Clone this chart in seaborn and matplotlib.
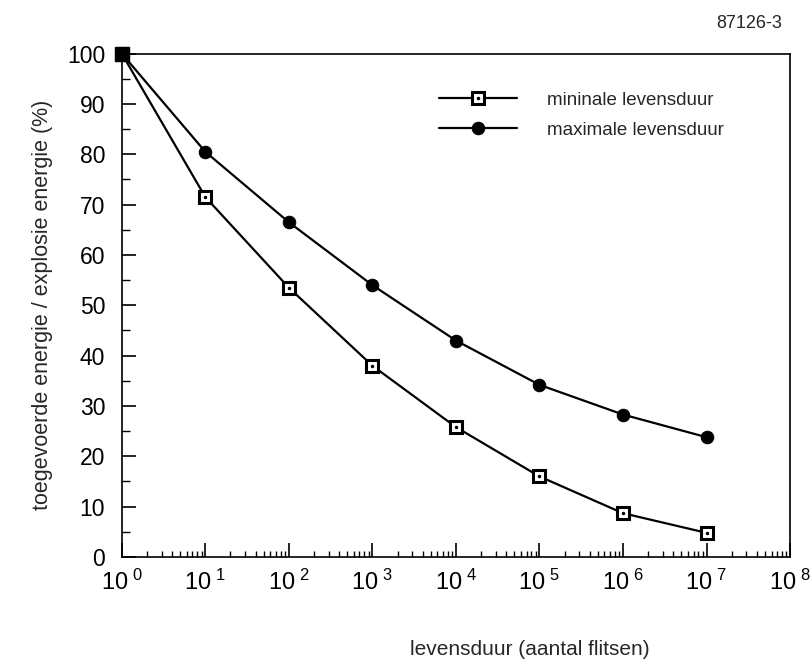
import matplotlib
matplotlib.use("Agg")
import matplotlib.pyplot as plt
import matplotlib.ticker as mticker
import seaborn as sns
import numpy as np

# values
flitsen = [1e0, 1e1, 1e2, 1e3, 1e4, 1e5, 1e6, 1e7]
min_levensduur = [100, 71.5, 53.5, 38.0, 25.8, 16.0, 8.7, 4.8]
max_levensduur = [100, 80.5, 66.5, 54.0, 43.0, 34.2, 28.3, 23.8]
decades = [0, 1, 2, 3, 4, 5, 6, 7, 8]

sns.set_style("ticks")
plt.rcParams['font.family'] = ['Liberation Sans', 'DejaVu Sans']
plt.rcParams['mathtext.default'] = 'regular'

fig = plt.figure(figsize=(8.12, 6.62), dpi=100)
ax = fig.add_axes([0.150, 0.1586, 0.823, 0.7604])

sns.lineplot(x=flitsen, y=min_levensduur, ax=ax, color="black", lw=1.6,
             marker="s", markersize=9, markerfacecolor="white",
             markeredgecolor="black", markeredgewidth=2.2, zorder=3, clip_on=False)
sq = ax.lines[-1]
dots = ax.plot(flitsen, min_levensduur, ls="none", marker=".", ms=3,
               color="black", zorder=4, clip_on=False)[0]
sns.lineplot(x=flitsen, y=max_levensduur, ax=ax, color="black", lw=1.6,
             marker="o", markersize=9, markerfacecolor="black",
             markeredgecolor="black", zorder=5, clip_on=False)
circ = ax.lines[-1]
# the shared start point looks like a solid block in the scan
ax.plot(flitsen[:1], max_levensduur[:1], marker="s", ms=10, color="black",
        ls="none", zorder=6, clip_on=False)

ax.set_xscale("log")
ax.set_xlim(1, 1e8)
ax.set_ylim(0, 100)

ax.set_xticks([10.0 ** d for d in decades])
ax.xaxis.set_major_formatter(mticker.FuncFormatter(
    lambda v, p: "$10^{\\ %d}$" % round(np.log10(v))))
ax.xaxis.set_minor_locator(mticker.LogLocator(base=10, subs=np.arange(2, 10), numticks=100))
ax.xaxis.set_minor_formatter(mticker.NullFormatter())
ax.set_yticks(range(0, 101, 10))
ax.yaxis.set_minor_locator(mticker.MultipleLocator(5))

ax.tick_params(which="both", direction="in", top=False, right=False, colors="black")
ax.tick_params(axis="x", which="major", length=10, width=1.2, labelsize=17, pad=9)
ax.tick_params(axis="x", which="minor", length=4, width=1)
ax.tick_params(axis="y", which="major", length=10, width=1.2, labelsize=16.5, pad=12)
ax.tick_params(axis="y", which="minor", length=6, width=1)
for s in ax.spines.values():
    s.set_linewidth(1.2)
    s.set_color("black")

ax.set_ylabel("toegevoerde energie / explosie energie (%)", fontsize=15.5, labelpad=10)
ax.set_xlabel("")
fig.text(0.653, 0.004, "levensduur (aantal flitsen)", fontsize=15, ha="center", va="bottom")
fig.text(0.963, 0.965, "87126-3", fontsize=13, ha="right", va="center")

ax.legend([(sq, dots), circ], ["mininale levensduur", "maximale levensduur"],
          loc="upper left", bbox_to_anchor=(0.449, 0.958), frameon=False,
          fontsize=13.5, handlelength=4.2, handletextpad=1.6, labelspacing=0.7)

plt.savefig("out.png", dpi=100)
